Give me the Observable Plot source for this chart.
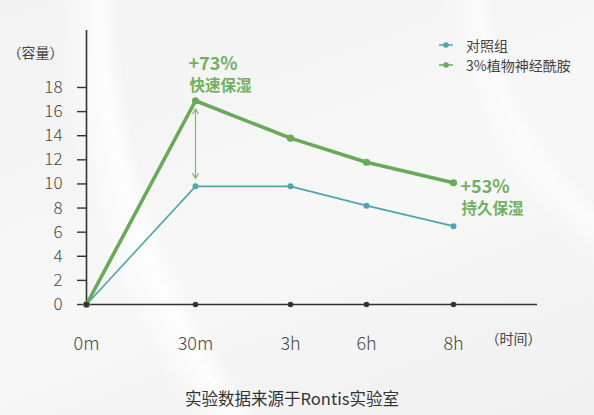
<!DOCTYPE html>
<html><head><meta charset="utf-8">
<script src="https://cdn.jsdelivr.net/npm/d3@7"></script>
<script src="https://cdn.jsdelivr.net/npm/@observablehq/plot@0.6"></script>
<style>
html,body{margin:0;padding:0;}
body{position:relative;width:594px;height:415px;overflow:hidden;
  background:
    radial-gradient(circle at 800px 0px, rgba(255,255,255,0) 0 680px, rgba(255,255,255,0.85) 700px, rgba(255,255,255,0) 740px),
    radial-gradient(circle at 820px -40px, rgba(255,255,255,0) 0 330px, rgba(255,255,255,0.6) 345px, rgba(255,255,255,0) 380px),
    linear-gradient(160deg,#f2f2f2,#f7f7f7 55%,#efefef);
  font-family:"Noto Sans CJK SC","Noto Sans",sans-serif;}
#chart{position:absolute;left:0;top:0;}
#legend{position:absolute;left:438px;top:35px;font-size:14px;color:#444;line-height:20px;}
#legend .item{display:flex;align-items:center;}
#legend svg{margin-right:12px;}
#cap{position:absolute;left:0;top:386px;width:584px;text-align:center;font-size:16.5px;color:#333;}
</style></head><body>
<div id="chart"></div>
<div id="legend"></div>
<div id="cap">实验数据来源于Rontis实验室</div>
<script>
const times = ["0m", "30m", "3h", "6h", "8h"];
const controlValues = [0, 9.8, 9.8, 8.2, 6.5];
const ceramideValues = [0, 16.9, 13.8, 11.8, 10.1];
const yTicks = [0, 2, 4, 6, 8, 10, 12, 14, 16, 18];
const seriesNames = ["对照组", "3%植物神经酰胺"];
const peakLabel = ["+73%", "快速保湿"];
const endLabel = ["+53%", "持久保湿"];

const teal = "#4fa5ae";
const green = "#6aa95a";
const textGreen = "#72b05f";
const arrowGreen = "#7fba6c";

const idx = times.map((_, i) => i);
const control = idx.map(i => ({i, v: controlValues[i]}));
const ceramide = idx.map(i => ({i, v: ceramideValues[i]}));
const mid = (ceramideValues[1] + controlValues[1]) / 2;
const gapArrows = [
  {x: 1, y1: mid, y2: ceramideValues[1]},
  {x: 1, y1: mid, y2: controlValues[1]}
];

const plot = Plot.plot({
  width: 594,
  height: 375,
  marginLeft: 86,
  marginRight: 57,
  marginTop: 30,
  marginBottom: 71,
  style: {background: "transparent", fontFamily: "'Noto Sans CJK SC','Noto Sans',sans-serif"},
  x: {type: "linear", domain: idx, range: [86, 195, 290, 366, 453], axis: null},
  y: {domain: [0, 18], range: [304, 87], axis: null},
  marks: [
    Plot.ruleX([0], {stroke: "#333", strokeWidth: 1.6}),
    Plot.ruleY([0], {stroke: "#333", strokeWidth: 1.6}),
    Plot.axisY({ticks: yTicks, tickSize: 9, tickPadding: 15, fontSize: 17, fontWeight: 300, color: "#484848", stroke: "#333", strokeWidth: 1.4, label: null}),
    Plot.axisX({ticks: idx, tickFormat: i => times[i], tickSize: 0, tickPadding: 33, fontSize: 18, fontWeight: 300, color: "#484848", label: null}),
    Plot.text(["（容量）"], {frameAnchor: "top-left", textAnchor: "end", dx: -23, dy: 18, fontSize: 14, fill: "#444"}),
    Plot.text(["（时间）"], {frameAnchor: "bottom-right", textAnchor: "end", dx: 4, dy: 39, fontSize: 14, fill: "#444"}),
    Plot.arrow(gapArrows, {x: "x", y1: "y1", y2: "y2", stroke: arrowGreen, strokeWidth: 1.2, headLength: 7, insetEnd: 8}),
    Plot.line(control, {x: "i", y: "v", stroke: teal, strokeWidth: 1.6}),
    Plot.dot(control, {x: "i", y: "v", fill: teal, r: 3}),
    Plot.line(ceramide, {x: "i", y: "v", stroke: green, strokeWidth: 3.6}),
    Plot.dot(ceramide, {x: "i", y: "v", fill: green, r: 3.6}),
    Plot.dot(idx, {x: d => d, y: 0, fill: "#333", r: 2.8}),
    Plot.text([peakLabel[0]], {x: 1, y: ceramideValues[1], textAnchor: "start", lineAnchor: "bottom", dx: -7, dy: -31, fontSize: 18, fontWeight: "bold", fill: textGreen}),
    Plot.text([peakLabel[1]], {x: 1, y: ceramideValues[1], textAnchor: "start", lineAnchor: "bottom", dx: -6, dy: -10, fontSize: 15.5, fontWeight: "bold", fill: textGreen}),
    Plot.text([endLabel[0]], {x: 4, y: ceramideValues[4], textAnchor: "start", lineAnchor: "bottom", dx: 7, dy: 10, fontSize: 18, fontWeight: "bold", fill: textGreen}),
    Plot.text([endLabel[1]], {x: 4, y: ceramideValues[4], textAnchor: "start", lineAnchor: "bottom", dx: 8, dy: 31, fontSize: 15.5, fontWeight: "bold", fill: textGreen})
  ]
});
document.getElementById("chart").appendChild(plot);

const legend = document.getElementById("legend");
[[seriesNames[0], teal], [seriesNames[1], green]].forEach(([name, c]) => {
  const item = document.createElement("div");
  item.className = "item";
  item.innerHTML = `<svg width="16" height="8"><line x1="1" y1="4" x2="15" y2="4" stroke="${c}" stroke-width="1.5"/><circle cx="8" cy="4" r="2.8" fill="${c}"/></svg><span>${name}</span>`;
  legend.appendChild(item);
});
</script>
</body></html>
